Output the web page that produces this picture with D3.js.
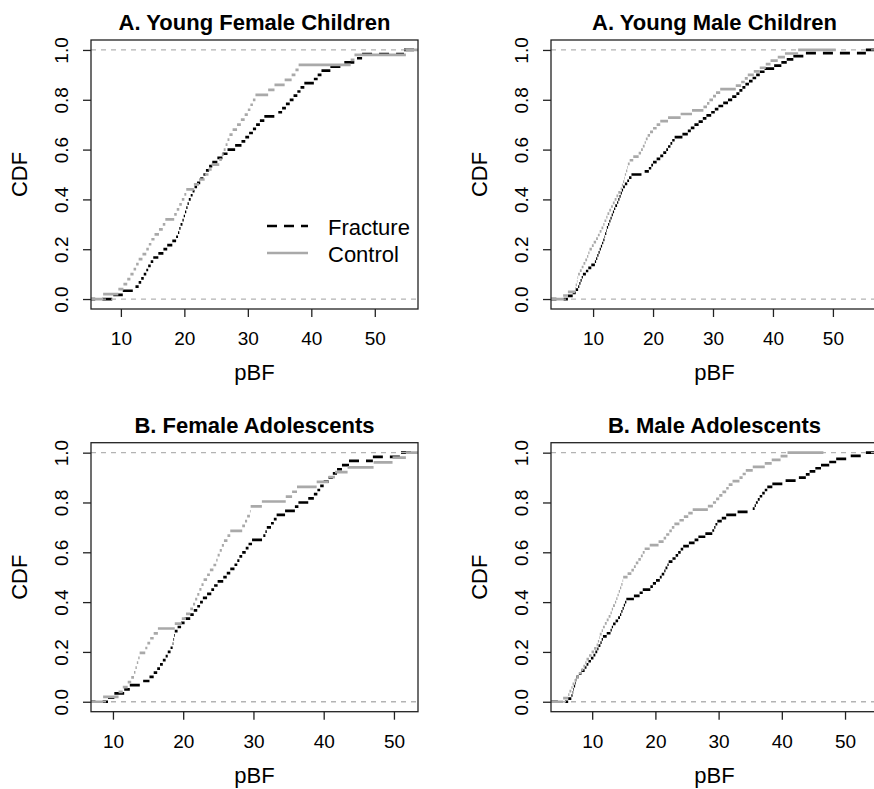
<!DOCTYPE html>
<html lang="en">
<meta charset="utf-8">
<head>
    <title>CDF of pBF, fracture vs control</title>
    <script src="https://d3js.org/d3.v7.min.js"></script>
    <style type="text/css">
        body { margin: 0; background: white; }
        svg text { font-family: "Liberation Sans", Arial, Helvetica, sans-serif; fill: #000; }
        .tick line { stroke: #222; stroke-width: 1.3; }
    </style>
</head>
<body>
<div id="chart"></div>

<script>
// titles of the four panels
var panelTitles = ["A. Young Female Children", "A. Young Male Children",
                   "B. Female Adolescents", "B. Male Adolescents"];

// sorted pBF samples
var p1Fracture = [8.8, 10.3, 12.3, 12.8, 13.2, 13.6, 14.0, 14.3, 14.7, 15.1, 15.9, 16.7, 17.3, 18.1, 18.7,
    19.0, 19.2, 19.4, 19.7, 19.9, 20.1, 20.3, 20.5, 20.7, 21.0, 21.3, 21.6, 22.0, 22.5, 23.0,
    23.4, 23.9, 24.4, 25.2, 26.0, 26.8, 28.0, 29.0, 29.6, 30.2, 30.8, 31.3, 31.9, 32.6, 34.8,
    35.4, 36.0, 36.6, 37.2, 37.8, 38.3, 38.9, 40.4, 41.0, 41.6, 43.0, 45.2, 47.2, 48.0, 54.6];
var p1Control = [7.2, 9.6, 10.4, 11.0, 11.5, 12.0, 12.4, 12.8, 13.4, 14.0, 14.4, 14.8, 15.3, 16.0, 16.6,
    17.0, 18.4, 18.8, 19.2, 19.6, 20.0, 20.3, 21.5, 22.3, 23.2, 23.8, 24.3, 25.5, 25.9, 26.2,
    26.5, 26.8, 27.1, 27.6, 28.3, 28.9, 29.5, 30.0, 30.4, 30.8, 31.2, 33.2, 34.2, 35.8, 36.9,
    37.5, 38.0, 46.2, 46.8, 54.9];

var p2Fracture = [5.8, 6.6, 7.1, 7.5, 7.7, 7.9, 8.1, 8.3, 8.8, 9.2, 9.7, 10.3, 10.5, 10.7, 10.9, 11.1,
    11.3, 11.5, 11.7, 11.9, 12.0, 12.2, 12.3, 12.5, 12.7, 12.9, 13.1, 13.3, 13.5, 13.7, 14.0, 14.2,
    14.4, 14.6, 14.8, 15.0, 15.3, 15.7, 16.0, 16.4, 18.6, 19.3, 19.7, 20.0, 20.6, 21.2, 21.7, 22.2,
    22.5, 22.9, 23.2, 23.6, 24.9, 25.8, 26.3, 26.9, 27.6, 28.3, 28.9, 29.7, 30.3, 30.9, 31.7, 32.5,
    33.2, 33.9, 34.4, 34.9, 35.4, 36.0, 36.6, 37.2, 37.8, 38.6, 40.2, 41.4, 42.3, 43.4, 45.5, 55.5];
var p2Control = [5.0, 5.8, 7.0, 7.1, 7.3, 7.4, 7.5, 7.8, 8.1, 8.4, 8.7, 9.0, 9.2, 9.4, 9.8, 10.1, 10.5,
    10.8, 11.1, 11.4, 11.7, 11.9, 12.2, 12.4, 12.7, 13.0, 13.3, 13.6, 13.9, 14.2, 14.6, 14.8, 15.0,
    15.2, 15.3, 15.5, 15.7, 15.8, 16.1, 16.7, 17.6, 18.0, 18.3, 18.6, 18.8, 19.1, 19.5, 20.0, 20.6,
    21.2, 22.5, 24.6, 26.5, 28.4, 29.0, 29.4, 30.0, 30.5, 31.2, 33.8, 34.7, 35.3, 35.8, 36.8, 37.8,
    38.8, 39.6, 40.8, 42.0, 44.2];

var p3Fracture = [9.3, 10.2, 11.6, 12.4, 14.3, 15.2, 15.8, 16.3, 16.7, 17.1, 17.5, 17.8, 18.2, 18.5, 18.6,
    18.7, 18.8, 19.2, 19.7, 20.2, 21.0, 21.5, 22.0, 22.4, 22.8, 23.4, 24.0, 24.4, 24.9, 25.7,
    26.2, 26.7, 27.3, 27.7, 28.0, 28.4, 28.9, 29.3, 29.8, 31.4, 31.7, 31.9, 32.5, 32.9, 33.3,
    34.5, 35.9, 36.4, 37.8, 38.6, 39.1, 39.5, 40.0, 40.7, 41.3, 41.9, 42.6, 43.6, 47.0, 51.0];
var p3Control = [8.6, 10.8, 11.4, 12.1, 12.6, 13.0, 13.2, 13.4, 13.6, 13.8, 14.6, 14.9, 15.3, 15.8, 16.4,
    18.8, 19.8, 20.4, 21.0, 21.4, 21.7, 22.0, 22.3, 22.6, 22.9, 23.4, 23.8, 24.3, 24.7, 24.9,
    25.2, 25.5, 25.8, 26.3, 26.7, 28.4, 28.8, 29.1, 29.5, 29.6, 31.2, 34.6, 35.5, 36.2, 39.0,
    40.7, 41.6, 43.4, 47.1, 49.8, 51.7];

var p4Fracture = [6.2, 6.7, 6.9, 7.0, 7.1, 7.3, 7.4, 7.5, 7.9, 8.3, 8.8, 9.1, 9.4, 9.8, 10.2, 10.5,
    10.8, 11.0, 11.3, 11.5, 11.7, 12.3, 12.9, 13.1, 13.3, 13.7, 14.1, 14.4, 14.6, 14.8, 15.0, 15.2,
    15.4, 16.6, 17.5, 18.0, 19.2, 19.6, 20.1, 20.7, 21.0, 21.4, 21.6, 21.9, 22.1, 22.7, 23.2, 23.6,
    24.0, 24.4, 25.3, 26.2, 26.8, 27.9, 29.0, 29.3, 29.5, 29.8, 30.5, 31.2, 33.0, 35.4, 35.7, 35.9,
    36.2, 36.5, 36.9, 37.3, 37.7, 38.5, 40.6, 42.7, 43.8, 44.4, 45.3, 46.2, 47.5, 48.6, 50.9, 53.3];
var p4Control = [5.4, 6.2, 6.4, 6.7, 6.9, 7.2, 7.5, 7.9, 8.3, 8.6, 8.9, 9.1, 9.5, 9.9, 10.3, 10.7, 10.9,
    11.1, 11.2, 11.5, 11.7, 12.0, 12.3, 12.6, 12.9, 13.1, 13.3, 13.6, 13.8, 14.0, 14.2, 14.4, 14.6,
    14.8, 14.9, 15.6, 16.2, 16.6, 16.9, 17.3, 17.7, 18.0, 18.3, 19.1, 20.5, 21.3, 21.7, 22.2, 22.6,
    23.0, 23.8, 24.5, 25.2, 25.9, 28.3, 29.1, 29.6, 30.1, 30.6, 31.2, 31.6, 32.2, 33.3, 33.8, 34.3,
    35.4, 37.3, 38.4, 39.8, 40.9];

var xTicks = [10, 20, 30, 40, 50];
var yTicks = [0, 0.2, 0.4, 0.6, 0.8, 1.0];
var legendLabels = ["Fracture", "Control"];
var xLabel = "pBF";
var yLabel = "CDF";

var fractureSets = [p1Fracture, p2Fracture, p3Fracture, p4Fracture];
var controlSets = [p1Control, p2Control, p3Control, p4Control];

//Width and height
var w = 874;
var h = 789;
var pw = 327, ph = 269;

var svg = d3.select("#chart")
    .append("svg")
    .attr("width", w)
    .attr("height", h);

var defs = svg.append("defs");

// horizontal-only step segments, like plot.ecdf(verticals = FALSE)
function stepPath(x, y, values, lo, hi) {
    var n = values.length;
    var xs = [lo].concat(values, [hi]);
    var d = "";
    for (var i = 0; i <= n; i++) {
        d += "M" + x(xs[i]) + "," + y(i / n) + "H" + x(xs[i + 1]);
    }
    return d;
}

panelTitles.forEach(function(title, p) {
    var col = p % 2, row = Math.floor(p / 2);
    var left = 91 + col * 460;
    var top = 40 + row * 402.7;
    var frac = fractureSets[p], ctrl = controlSets[p];

    var ext = d3.extent(frac.concat(ctrl));
    var pad = 0.04 * (ext[1] - ext[0]);
    var x = d3.scaleLinear().domain([ext[0] - pad, ext[1] + pad]).range([left, left + pw]);
    var y = d3.scaleLinear().domain([-0.04, 1.04]).range([top + ph, top]);

    var g = svg.append("g");

    defs.append("clipPath").attr("id", "clip" + p)
        .append("rect").attr("x", left).attr("y", top).attr("width", pw).attr("height", ph);

    var plot = g.append("g").attr("clip-path", "url(#clip" + p + ")");

    // fracture curve, drawn first so its ends run past the box
    plot.append("path")
        .attr("d", stepPath(x, y, frac, x.domain()[0] - 100, x.domain()[1] + 100))
        .attr("fill", "none")
        .attr("stroke", "#000")
        .attr("stroke-width", 2.7)
        .attr("stroke-dasharray", "10,7");

    // 0 and 1 reference lines
    plot.selectAll("line.ref")
        .data([0, 1])
        .enter()
        .append("line")
        .attr("x1", left).attr("x2", left + pw)
        .attr("y1", function(d) { return y(d); })
        .attr("y2", function(d) { return y(d); })
        .attr("stroke", "#b3b3b3")
        .attr("stroke-width", 1.3)
        .attr("stroke-dasharray", "5,5");

    // control curve added on top, with its own extension
    var cext = d3.extent(ctrl);
    var dr = 0.08 * (cext[1] - cext[0]);
    plot.append("path")
        .attr("d", stepPath(x, y, ctrl, cext[0] - 2 * dr, cext[1] + 2 * dr))
        .attr("fill", "none")
        .attr("stroke", "#a9a9a9")
        .attr("stroke-width", 2.7);

    // box
    g.append("rect")
        .attr("x", left).attr("y", top)
        .attr("width", pw).attr("height", ph)
        .attr("fill", "none")
        .attr("stroke", "#222")
        .attr("stroke-width", 1.3);

    // x axis
    var xa = g.append("g")
        .attr("transform", "translate(0," + (top + ph) + ")")
        .call(d3.axisBottom(x).tickValues(xTicks).tickSize(8).tickSizeOuter(0));
    xa.select(".domain").remove();
    xa.selectAll("text")
        .attr("y", 36).attr("dy", null)
        .style("font-size", "19px");

    // y axis
    var ya = g.append("g")
        .attr("transform", "translate(" + left + ",0)")
        .call(d3.axisLeft(y).tickValues(yTicks).tickSize(8).tickSizeOuter(0).tickFormat(d3.format(".1f")));
    ya.select(".domain").remove();
    ya.selectAll("text")
        .attr("x", null).attr("dy", null)
        .attr("text-anchor", "middle")
        .attr("transform", "translate(-23,0) rotate(-90)")
        .style("font-size", "19px");

    // title and axis labels
    g.append("text")
        .attr("x", left + pw / 2).attr("y", top - 10)
        .attr("text-anchor", "middle")
        .style("font-size", "22px").style("font-weight", "bold")
        .text(title);

    g.append("text")
        .attr("x", left + pw / 2).attr("y", top + ph + 71)
        .attr("text-anchor", "middle")
        .style("font-size", "22px")
        .text(xLabel);

    g.append("text")
        .attr("transform", "translate(" + (left - 64) + "," + (top + ph / 2) + ") rotate(-90)")
        .attr("text-anchor", "middle")
        .style("font-size", "22px")
        .text(yLabel);

    // legend only in the first panel
    if (p === 0) {
        var leg = g.selectAll("g.legend")
            .data(legendLabels)
            .enter()
            .append("g")
            .attr("transform", function(d, i) {
                return "translate(" + (left + 176) + "," + (top + 186 + i * 27) + ")";
            });
        leg.append("line")
            .attr("x1", 0).attr("x2", 41)
            .attr("stroke", function(d, i) { return i === 0 ? "#000" : "#a9a9a9"; })
            .attr("stroke-width", 2.7)
            .attr("stroke-dasharray", function(d, i) { return i === 0 ? "10,7" : null; });
        leg.append("text")
            .attr("x", 61).attr("y", 8.5)
            .style("font-size", "22px")
            .text(function(d) { return d; });
    }
});
</script>
</body>
</html>
